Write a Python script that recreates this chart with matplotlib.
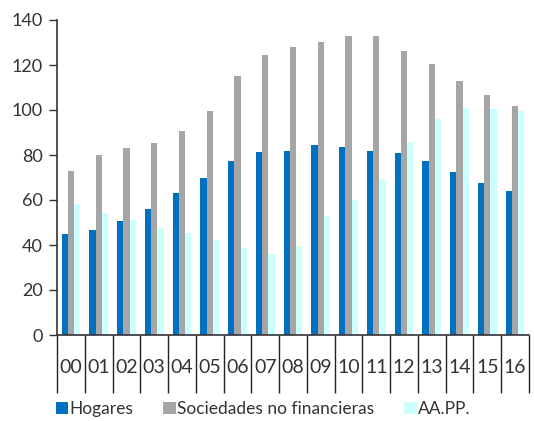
import matplotlib
matplotlib.use("Agg")
import matplotlib.pyplot as plt
import numpy as np
from matplotlib.patches import Patch

years = ["00", "01", "02", "03", "04", "05", "06", "07", "08", "09",
         "10", "11", "12", "13", "14", "15", "16"]
hogares = [45, 46.5, 50.7, 56, 63, 70, 77.2, 81.3, 81.9, 84.3, 83.7, 81.9, 80.7, 77.2, 72.4, 67.7, 64.1]
sociedades = [73, 80, 83, 85.5, 90.8, 99.7, 115, 124.4, 128, 130.4, 132.8, 132.8, 126.2, 120.3, 112.7, 106.7, 102]
aapp = [58.2, 54.4, 51.1, 47.6, 45.3, 42.4, 38.8, 36, 39.4, 53, 60, 69.5, 86, 96, 100.9, 100.3, 99.6]
yticks = [0, 20, 40, 60, 80, 100, 120, 140]

labels = ["Hogares", "Sociedades no financieras", "AA.PP."]
colors = ["#0070C0", "#A6A6A6", "#CCFFFF"]

plt.rcParams['font.family'] = ['Lato', 'DejaVu Sans']

fig = plt.figure(figsize=(5.34, 4.21), dpi=100)
ax = fig.add_axes([57/534, (421-335)/421, (529-57)/534, (335-20)/421])

x = np.arange(len(years))
w = 0.225
for i, (vals, c) in enumerate(zip([hogares, sociedades, aapp], colors)):
    ax.bar(x + (i - 1) * w, vals, width=w, color=c, edgecolor='none')

ax.set_xlim(-0.5, len(years) - 0.5)
ax.set_ylim(0, 140)
ax.set_yticks(yticks)
ax.tick_params(axis='y', direction='out', length=6, width=1, color='#333333',
               labelsize=13, labelcolor='#333333', pad=4)

ax.set_xticks(x)
ax.set_xticklabels(years)
ax.tick_params(axis='x', which='major', length=0, labelsize=14, labelcolor='#333333', pad=17)
ax.set_xticks(np.arange(-0.5, len(years)), minor=True)
ax.tick_params(axis='x', which='minor', length=42, width=1, color='#222222')

for s in ['top', 'right']:
    ax.spines[s].set_visible(False)
for s in ['left', 'bottom']:
    ax.spines[s].set_color('#333333')
    ax.spines[s].set_linewidth(1.2)

handles = [Patch(facecolor=c, edgecolor='none') for c in colors]
fig.legend(handles, labels, loc='center left', bbox_to_anchor=(40/534, 1 - 409/421),
           ncol=3, frameon=False, fontsize=12.5, handlelength=0.72, handleheight=0.72,
           handletextpad=0.1, columnspacing=1.7, labelcolor='#333333')

fig.savefig("out.png", dpi=100)
